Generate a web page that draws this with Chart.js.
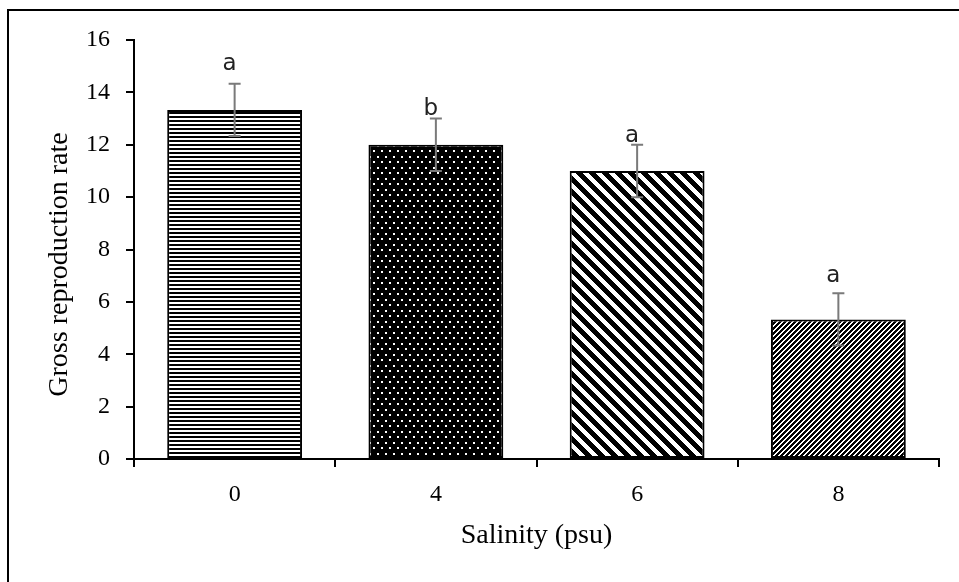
<!DOCTYPE html>
<html lang="en">
<head>
<title>Gross reproduction rate</title>
<script src="https://cdn.jsdelivr.net/npm/chart.js"></script>
<style>
  html, body { margin: 0; padding: 0; background: #fff; }
</style>
</head>
<body>
<canvas id="myChart" width="959" height="582"></canvas>

<script type="text/javascript">
// values
const categories = ['0', '4', '6', '8'];
const rates = [13.33, 12.0, 11.0, 5.33];
const errors = [1.0, 1.0, 1.0, 1.0];
const letters = ['a', 'b', 'a', 'a'];
const letterLevels = [14.85, 13.15, 12.1, 6.75];

const canvas = document.getElementById('myChart');
const ctx = canvas.getContext('2d');

function makeTile(w, h, draw) {
    const c = document.createElement('canvas');
    c.width = w;
    c.height = h;
    draw(c.getContext('2d'), w, h);
    return ctx.createPattern(c, 'repeat');
}

// horizontal lines
const hLines = makeTile(4, 4, (g) => {
    g.fillStyle = '#fff'; g.fillRect(0, 0, 4, 4);
    g.fillStyle = '#000'; g.fillRect(0, 0, 4, 2);
});

// black with white dots
const dots = makeTile(8, 11, (g) => {
    g.fillStyle = '#000'; g.fillRect(0, 0, 8, 11);
    g.fillStyle = '#fff';
    g.fillRect(1, 2, 2, 2);
    g.fillRect(5, 7, 2, 2);
});

// crisp pixel stripes, "\" when down is true, "/" otherwise
function diagonal(p, t, down) {
    return makeTile(p, p, (g) => {
        g.fillStyle = '#fff'; g.fillRect(0, 0, p, p);
        g.fillStyle = '#000';
        for (let y = 0; y < p; y++) {
            for (let x = 0; x < p; x++) {
                const k = down ? ((x - y) % p + p) % p : (x + y) % p;
                if (k < t) g.fillRect(x, y, 1, 1);
            }
        }
    });
}
const wideDiag = diagonal(13, 7, true);
const narrowDiag = diagonal(5, 3, false);

const frame = {
    id: 'frame',
    beforeDraw(chart) {
        const c = chart.ctx;
        c.save();
        c.fillStyle = '#fff';
        c.fillRect(0, 0, chart.width, chart.height);
        c.strokeStyle = '#000';
        c.lineWidth = 2;
        c.beginPath();
        c.moveTo(8, chart.height);
        c.lineTo(8, 10);
        c.lineTo(chart.width, 10);
        c.stroke();
        c.restore();
    }
};

const errorBars = {
    id: 'errorBars',
    afterDatasetsDraw(chart) {
        const c = chart.ctx;
        const y = chart.scales.y;
        const meta = chart.getDatasetMeta(0);
        c.save();
        c.strokeStyle = '#7a7a7a';
        c.lineWidth = 2;
        meta.data.forEach((bar, i) => {
            const x = bar.x;
            const top = y.getPixelForValue(rates[i] + errors[i]);
            const bot = y.getPixelForValue(rates[i] - errors[i]);
            c.beginPath();
            c.moveTo(x, top); c.lineTo(x, bot);
            c.moveTo(x - 6, top); c.lineTo(x + 6, top);
            c.moveTo(x - 6, bot); c.lineTo(x + 6, bot);
            c.stroke();
        });
        c.fillStyle = '#222';
        c.font = '23px "DejaVu Sans"';
        c.textAlign = 'center';
        c.textBaseline = 'alphabetic';
        meta.data.forEach((bar, i) => {
            c.fillText(letters[i], bar.x - 5, y.getPixelForValue(letterLevels[i]));
        });
        c.restore();
    }
};

const yTitle = {
    id: 'yTitle',
    afterDraw(chart) {
        const c = chart.ctx;
        const { top, bottom } = chart.chartArea;
        c.save();
        c.translate(60, (top + bottom) / 2 + 15);
        c.rotate(-Math.PI / 2);
        c.fillStyle = '#000';
        c.font = '28px "Liberation Serif"';
        c.textAlign = 'center';
        c.textBaseline = 'middle';
        c.fillText('Gross reproduction rate', 0, 0);
        c.restore();
    }
};

new Chart(canvas, {
    type: 'bar',
    data: {
        labels: categories,
        datasets: [{
            data: rates,
            backgroundColor: [hLines, dots, wideDiag, narrowDiag],
            borderColor: '#000',
            borderWidth: 2,
            borderSkipped: false,
            barPercentage: 0.67,
            categoryPercentage: 1
        }]
    },
    options: {
        responsive: false,
        animation: false,
        layout: { padding: { top: 40, right: 20, left: 0, bottom: 0 } },
        plugins: {
            legend: { display: false },
            tooltip: { enabled: false }
        },
        scales: {
            x: {
                grid: { drawOnChartArea: false, offset: true, tickLength: 8, color: '#000', lineWidth: 2 },
                border: { color: '#000', width: 2 },
                ticks: { color: '#000', font: { family: 'Liberation Serif', size: 24 }, padding: 13 },
                title: {
                    display: true,
                    text: 'Salinity (psu)',
                    color: '#000',
                    font: { family: 'Liberation Serif', size: 28 },
                    padding: { top: 0, bottom: 30 }
                },
                afterFit(scale) { scale.height = 123; }
            },
            y: {
                min: 0,
                max: 16,
                grid: { drawOnChartArea: false, tickLength: 8, color: '#000', lineWidth: 2 },
                border: { color: '#000', width: 2 },
                ticks: { stepSize: 2, color: '#000', font: { family: 'Liberation Serif', size: 24 }, padding: 16 },
                afterFit(scale) { scale.width = 134; }
            }
        }
    },
    plugins: [frame, errorBars, yTitle]
});
</script>
</body>
</html>
